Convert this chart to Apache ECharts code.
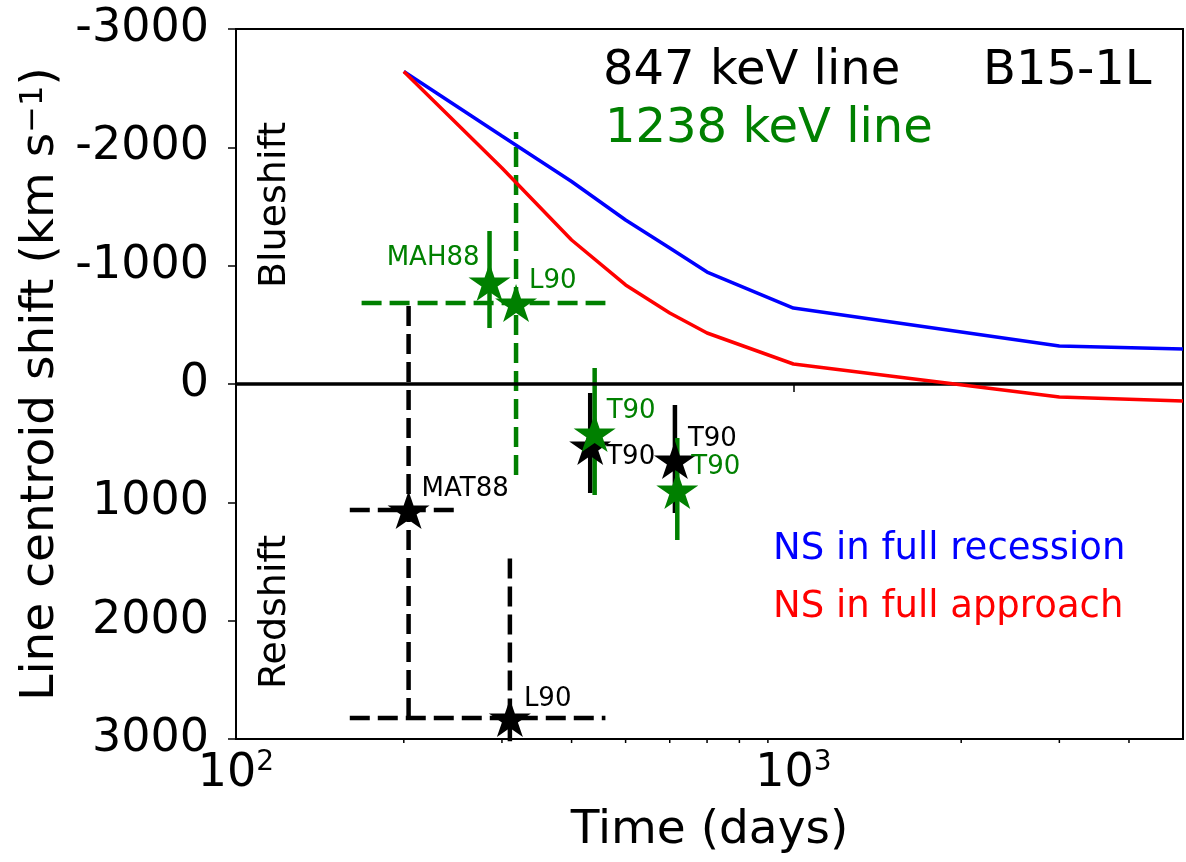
<!DOCTYPE html>
<html>
<head>
<meta charset="utf-8">
<script src="https://cdn.jsdelivr.net/npm/echarts@6/dist/echarts.min.js"></script>
<style>
  html, body { margin: 0; padding: 0; background: #fff; }
  #chart { width: 1186px; height: 862px; }
</style>
</head>
<body>
<div id="chart"></div>
<script>
// model curves (B15-1L)
var modelDays = [200, 300, 400, 500, 600, 700, 1000, 3000, 5000];
var recession = [-2641, -2096, -1711, -1386, -1149, -946, -642, -321, -296];
var approach = [-2641, -1825, -1217, -837, -600, -431, -169, 110, 144];

// 847 keV line measurements
var names847 = ['MAT88', 'L90', 'T90', 'T90'];
var days847 = [204, 310, 432, 613];
var shift847 = [1065, 2823, 524, 642];
var dayLo847 = [160, 160, null, null];
var dayHi847 = [246, 460, null, null];
var shiftLo847 = [-710, 1428, 76, 178];
var shiftHi847 = [2823, 3300, 921, 1090];
var dashed847 = [true, true, false, false];

// 1238 keV line measurements
var names1238 = ['MAH88', 'L90', 'T90', 'T90'];
var days1238 = [285, 318, 440, 619];
var shift1238 = [-862, -685, 414, 896];
var dayLo1238 = [null, 168, null, null];
var dayHi1238 = [null, 460, null, null];
var shiftLo1238 = [-1293, -2130, -135, 456];
var shiftHi1238 = [-473, 769, 938, 1318];
var dashed1238 = [false, true, false, false];

// axis
var xMin = 100, xMax = 5000;
var yMin = -3000, yMax = 3000;
var minorTickDays = [200, 300, 400, 500, 600, 700, 800, 900, 2000, 3000, 4000];

// label offsets (px) for the point names
var offs847 = [[13, -21], [14, -19], [16, 11], [13, -21]];
var offs1238 = [[-10, -24], [13, -22], [12, -22], [14, -23]];

var FONT = 'DejaVu Sans';
var GREEN = '#008000';
var STAR = 'path://M0,-1L0.2245,-0.309L0.951,-0.309L0.363,0.118L0.588,0.809L0,0.382L-0.588,0.809L-0.363,0.118L-0.951,-0.309L-0.2245,-0.309Z';

var myChart = echarts.init(document.getElementById('chart'));

function zip(a, b) {
    var out = [];
    for (var i = 0; i < a.length; i++) out.push([a[i], b[i]]);
    return out;
}

// error bars as short line series
function errorBars(color, days, shift, dLo, dHi, sLo, sHi, dashed) {
    var list = [];
    for (var i = 0; i < days.length; i++) {
        var ls = {
            color: color,
            width: 4.5,
            type: dashed[i] ? [20, 8] : 'solid'
        };
        if (dLo[i] != null) {
            list.push({
                type: 'line', symbol: 'none', silent: true, z: 1,
                lineStyle: ls,
                data: [[dLo[i], shift[i]], [dHi[i], shift[i]]]
            });
        }
        if (sLo[i] != null) {
            list.push({
                type: 'line', symbol: 'none', silent: true, z: 1,
                lineStyle: ls,
                data: [[days[i], sHi[i]], [days[i], sLo[i]]]
            });
        }
    }
    return list;
}

function stars(color, names, days, shift, offs, z) {
    var data = [];
    for (var i = 0; i < days.length; i++) {
        data.push({
            value: [days[i], shift[i]],
            label: {
                formatter: names[i],
                align: offs[i][0] < 0 ? 'right' : 'left',
                offset: offs[i]
            }
        });
    }
    return {
        type: 'scatter',
        symbol: STAR,
        symbolSize: [42, 40],
        symbolKeepAspect: true,
        itemStyle: { color: color, opacity: 1 },
        z: z,
        label: {
            show: true,
            position: 'inside',
            verticalAlign: 'middle',
            color: color,
            fontSize: 26,
            fontFamily: FONT
        },
        data: data
    };
}

var series = [];
series = series.concat(errorBars('#000', days847, shift847, dayLo847, dayHi847, shiftLo847, shiftHi847, dashed847));
series = series.concat(errorBars(GREEN, days1238, shift1238, dayLo1238, dayHi1238, shiftLo1238, shiftHi1238, dashed1238));

// zero line
series.push({
    type: 'line', symbol: 'none', silent: true, z: 2,
    lineStyle: { color: '#000', width: 3.5 },
    data: [[xMin, 0], [xMax, 0]]
});
series.push({
    type: 'line', symbol: 'none', name: 'NS in full recession', z: 2,
    lineStyle: { color: '#0000ff', width: 3.5 },
    data: zip(modelDays, recession)
});
series.push({
    type: 'line', symbol: 'none', name: 'NS in full approach', z: 2,
    lineStyle: { color: '#ff0000', width: 3.5 },
    data: zip(modelDays, approach)
});
series.push(stars('#000', names847, days847, shift847, offs847, 3));
series.push(stars(GREEN, names1238, days1238, shift1238, offs1238, 4));

// minor log ticks on the bottom axis
series.push({
    type: 'custom',
    silent: true,
    clip: false,
    z: 5,
    data: minorTickDays.map(function (d) { return [d, yMax]; }),
    renderItem: function (params, api) {
        var p = api.coord([api.value(0), yMax]);
        return {
            type: 'line',
            shape: { x1: p[0], y1: p[1], x2: p[0], y2: p[1] + 4 },
            style: { stroke: '#000', lineWidth: 1.5 }
        };
    }
});

option = {
    animation: false,
    backgroundColor: '#fff',
    textStyle: { fontFamily: FONT },
    grid: {
        left: 236, top: 29, right: -1, bottom: 123,
        show: true, borderColor: '#000', borderWidth: 2
    },
    xAxis: {
        type: 'log',
        logBase: 10,
        min: xMin,
        max: xMax,
        name: 'Time (days)',
        nameLocation: 'middle',
        nameGap: 68,
        nameTextStyle: { fontSize: 47, color: '#000', fontFamily: FONT },
        axisLine: { lineStyle: { color: '#000', width: 2 } },
        axisTick: { length: 8, lineStyle: { color: '#000', width: 1.5 } },
        splitLine: { show: false },
        axisLabel: {
            margin: 10,
            color: '#000',
            formatter: function (v) {
                if (Math.abs(v - 100) < 1) return '{b|10}{s|2}';
                if (Math.abs(v - 1000) < 1) return '{b|10}{s|3}';
                return '';
            },
            rich: {
                b: { fontSize: 46, lineHeight: 50, color: '#000', fontFamily: FONT },
                s: { fontSize: 28, verticalAlign: 'top', color: '#000', fontFamily: FONT }
            }
        }
    },
    yAxis: {
        type: 'value',
        inverse: true,
        min: yMin,
        max: yMax,
        interval: 1000,
        name: 'Line centroid shift (km s{s|\u22121})',
        nameLocation: 'middle',
        nameGap: 157,
        nameTextStyle: {
            fontSize: 47, color: '#000', fontFamily: FONT,
            rich: {
                s: { fontSize: 32, verticalAlign: 'top', color: '#000', fontFamily: FONT }
            }
        },
        axisLine: { show: true, lineStyle: { color: '#000', width: 2 } },
        axisTick: { show: true, length: 8, lineStyle: { color: '#000', width: 1.5 } },
        splitLine: { show: false },
        axisLabel: {
            margin: 27,
            fontSize: 46,
            color: '#000',
            fontFamily: FONT,
            formatter: function (v) {
                return String(v);
            }
        }
    },
    graphic: [
        { type: 'text', left: 603, top: 48, style: { text: '847 keV line', fontSize: 48, fill: '#000', fontFamily: FONT } },
        { type: 'text', left: 983, top: 48, style: { text: 'B15-1L', fontSize: 48, fill: '#000', fontFamily: FONT } },
        { type: 'text', left: 605, top: 106, style: { text: '1238 keV line', fontSize: 48, fill: GREEN, fontFamily: FONT } },
        { type: 'text', left: 773, top: 531, style: { text: 'NS in full recession', fontSize: 37, fill: '#0000ff', fontFamily: FONT } },
        { type: 'text', left: 773, top: 589, style: { text: 'NS in full approach', fontSize: 37, fill: '#ff0000', fontFamily: FONT } },
        { type: 'text', x: 275, y: 205, rotation: Math.PI / 2,
          style: { text: 'Blueshift', fontSize: 38, fill: '#000', fontFamily: FONT, align: 'center', verticalAlign: 'middle' } },
        { type: 'text', x: 275, y: 612, rotation: Math.PI / 2,
          style: { text: 'Redshift', fontSize: 38, fill: '#000', fontFamily: FONT, align: 'center', verticalAlign: 'middle' } }
    ],
    series: series
};

myChart.setOption(option);
</script>
</body>
</html>
